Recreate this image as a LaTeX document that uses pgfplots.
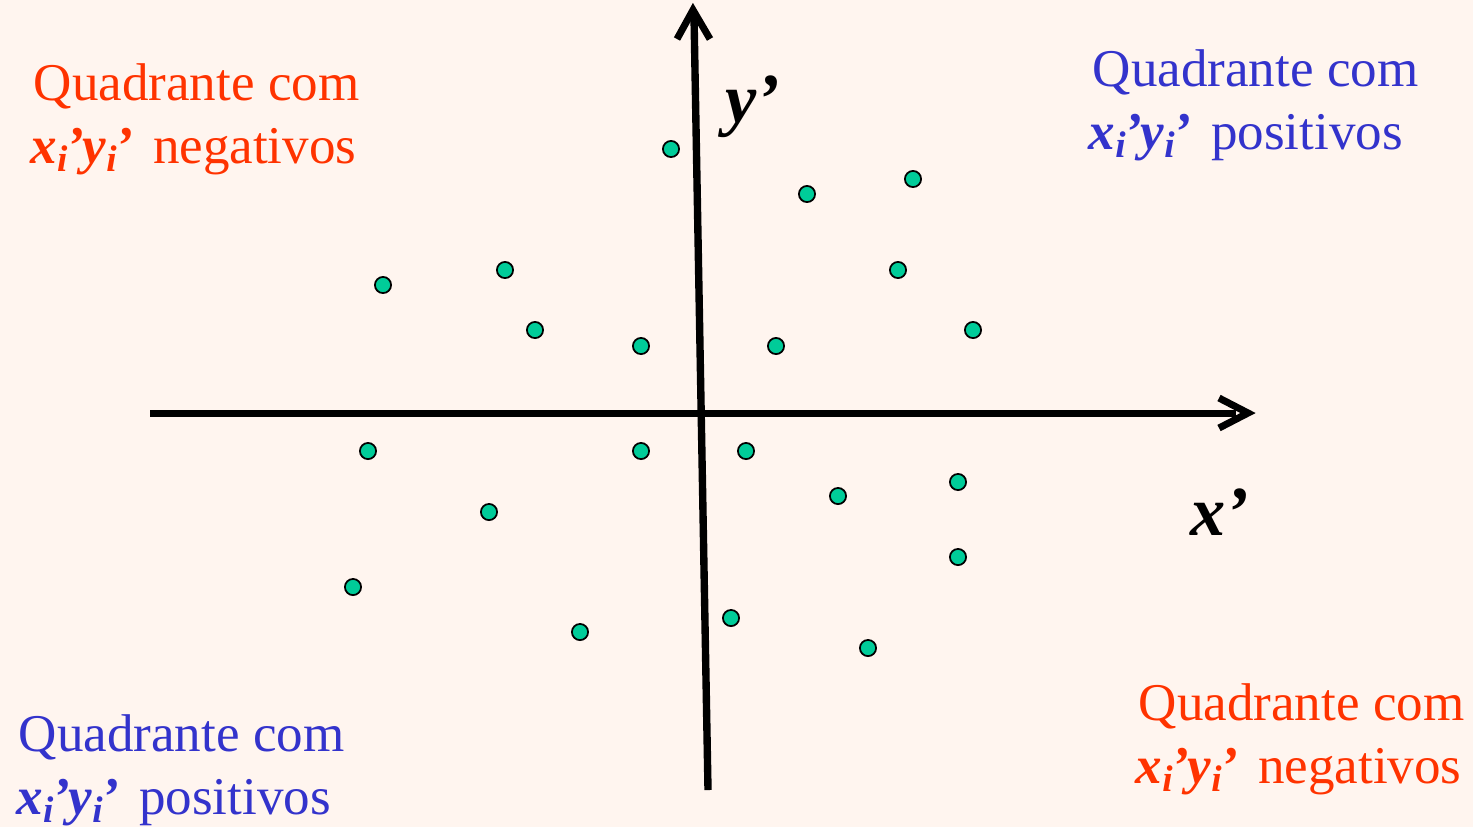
\documentclass[border=0pt]{standalone}
\usepackage{pgfplots}
\pgfplotsset{compat=1.18}
\usepackage{fontspec}
\setmainfont{Liberation Serif}
\definecolor{bg}{HTML}{FFF5EF}
\definecolor{qred}{HTML}{FF3300}
\definecolor{qblue}{HTML}{3333CC}
\definecolor{pt}{HTML}{00CC99}
\newcommand{\qfont}{\fontsize{15.1}{18}\selectfont}
\newcommand{\xy}{{\bfseries\itshape x\textsubscript{i}\kern-0.05em’\kern-0.03em y\textsubscript{i}\kern-0.05em’}\kern0.12em}
\begin{document}
\begin{tikzpicture}
\fill[bg] (0,0) rectangle (14.73cm,8.27cm);
\begin{axis}[
  width=14.73cm, height=8.27cm, scale only axis,
  xmin=0, xmax=1473, ymin=0, ymax=827, y dir=reverse,
  hide axis, clip=false,
]
% axes
\addplot[black, line width=2pt, line cap=butt] coordinates {(150,413) (1236,413)};
\addplot[black, line width=2pt, line join=miter] coordinates {(1219,398) (1248,413) (1219,428)};
\addplot[black, line width=2.1pt] coordinates {(708,790) (694,16)};
\addplot[black, line width=2pt, line join=miter] coordinates {(677,39) (693,10) (710,39)};
% points
\addplot[only marks, mark=*, mark size=2.3pt, mark options={fill=pt, draw=black, line width=0.5pt}] coordinates {
(671,149) (807,194) (913,179) (898,270) (973,330) (776,346)
(383,285) (505,270) (535,330) (641,346)
(368,451) (641,451) (746,451) (838,496) (958,482)
(489,512) (958,557) (353,587) (580,632) (731,618) (868,648)
};
% axis labels
\node[anchor=base west, inner sep=0, font=\fontsize{20}{24}\selectfont\bfseries\itshape] at (axis cs:725,122) {y’};
\node[anchor=base west, inner sep=0, font=\fontsize{20}{24}\selectfont\bfseries\itshape] at (axis cs:1190,535) {x’};
% quadrant labels
\node[anchor=base west, inner sep=0, text=qred, font=\qfont] at (axis cs:33,100) {Quadrante com};
\node[anchor=base west, inner sep=0, text=qred, font=\qfont] at (axis cs:30,163) {\xy{} negativos};
\node[anchor=base west, inner sep=0, text=qblue, font=\qfont] at (axis cs:1092,86) {Quadrante com};
\node[anchor=base west, inner sep=0, text=qblue, font=\qfont] at (axis cs:1088,149) {\xy{} positivos};
\node[anchor=base west, inner sep=0, text=qblue, font=\qfont] at (axis cs:18,751) {Quadrante com};
\node[anchor=base west, inner sep=0, text=qblue, font=\qfont] at (axis cs:16,814) {\xy{} positivos};
\node[anchor=base west, inner sep=0, text=qred, font=\qfont] at (axis cs:1138,720) {Quadrante com};
\node[anchor=base west, inner sep=0, text=qred, font=\qfont] at (axis cs:1135,783) {\xy{} negativos};
\end{axis}
\pgfresetboundingbox
\useasboundingbox (0,0) rectangle (14.73cm,8.27cm);
\end{tikzpicture}
\end{document}
